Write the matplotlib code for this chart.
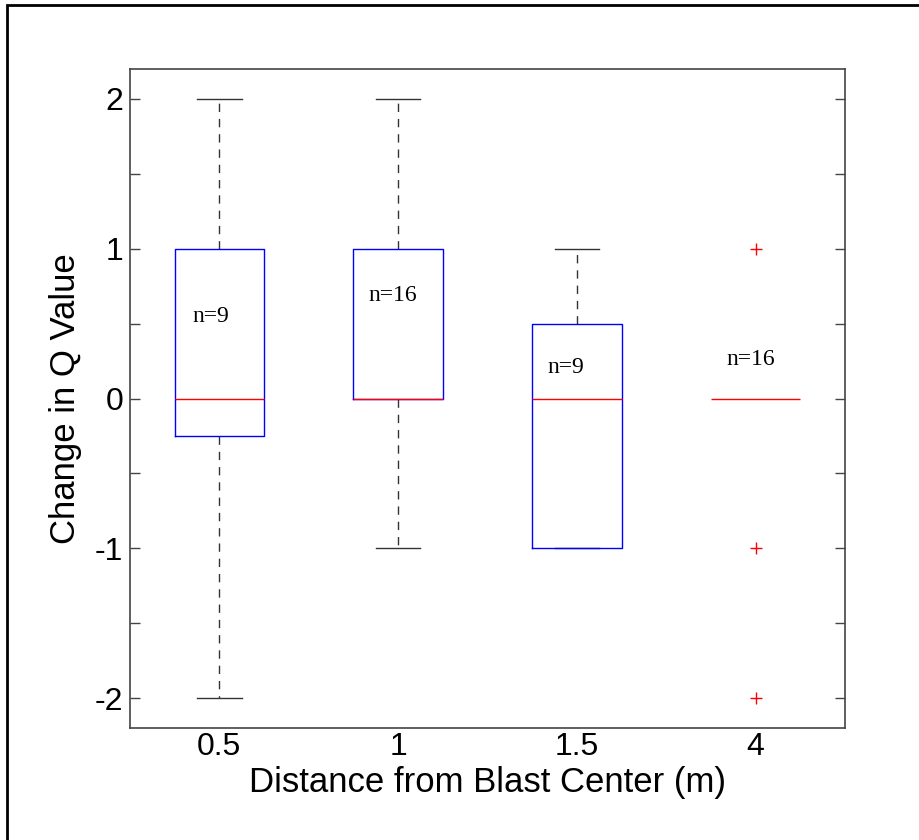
import matplotlib
matplotlib.use("Agg")
import matplotlib.pyplot as plt
from matplotlib.patches import Rectangle

categories = ["0.5", "1", "1.5", "4"]
q1 = [-0.25, 0.0, -1.0, 0.0]
medians = [0.0, 0.0, 0.0, 0.0]
q3 = [1.0, 1.0, 0.5, 0.0]
whisker_lo = [-2.0, -1.0, -1.0, 0.0]
whisker_hi = [2.0, 2.0, 1.0, 0.0]
outliers = [[], [], [], [1.0, -1.0, -2.0]]
n_labels = ["n=9", "n=16", "n=9", "n=16"]
n_label_y = [0.55, 0.69, 0.21, 0.26]
n_label_dx = [-0.05, -0.03, -0.06, -0.03]

W, H = 919, 840
fig = plt.figure(figsize=(W / 100, H / 100), dpi=100)
ax = fig.add_axes([130 / W, 1 - 728 / H, (845 - 130) / W, (728 - 69) / H])

stats = []
for i in range(len(categories)):
    stats.append(dict(med=medians[i], q1=q1[i], q3=q3[i],
                      whislo=whisker_lo[i], whishi=whisker_hi[i],
                      fliers=outliers[i], label=categories[i]))

pos = list(range(1, len(categories) + 1))
bp = ax.bxp(stats, positions=pos, widths=0.5, showfliers=True,
            boxprops=dict(color="#0000ff", linewidth=1.0),
            medianprops=dict(color="#ff0000", linewidth=1.0),
            whiskerprops=dict(color="#333333", linewidth=1.0, linestyle=(0, (6, 5))),
            capprops=dict(color="#333333", linewidth=1.0),
            capwidths=0.25,
            flierprops=dict(marker="+", markeredgecolor="#ff0000", markersize=9,
                            markeredgewidth=1.0, linestyle="none"))
for l in bp["whiskers"] + bp["caps"]:
    l.set_zorder(2)
for i, l in enumerate(bp["boxes"]):
    l.set_zorder(3)
    if q1[i] == q3[i]:
        l.set_visible(False)
for l in bp["medians"]:
    l.set_zorder(4)
for i in range(len(categories)):
    if whisker_lo[i] == whisker_hi[i]:
        bp["caps"][2 * i].set_visible(False)
        bp["caps"][2 * i + 1].set_visible(False)

for i in range(len(categories)):
    ax.text(pos[i] + n_label_dx[i], n_label_y[i], n_labels[i],
            ha="center", va="center", fontsize=17,
            family=["Liberation Serif", "DejaVu Serif"])

ax.set_xlim(0.5, 4.5)
ax.set_ylim(-2.2, 2.2)
ax.set_xticks(pos)
ax.set_xticklabels(categories)
yt = [-2, -1.5, -1, -0.5, 0, 0.5, 1, 1.5, 2]
ylab = {-2: "-2", -1: "-1", 0: "0", 1: "1", 2: "2"}
ax.set_yticks(yt)
ax.set_yticklabels([ylab.get(v, "") for v in yt])
ax.tick_params(direction="in", length=7, width=1, color="#444444",
               right=True, top=False, labelsize=23)
ax.tick_params(axis="y", pad=5)
ax.tick_params(axis="x", length=0, pad=3)
for t in ax.get_xticklabels() + ax.get_yticklabels():
    t.set_family(["Liberation Sans", "DejaVu Sans"])
for s in ax.spines.values():
    s.set_color("#444444")
    s.set_linewidth(1.2)

ax.set_xlabel("Distance from Blast Center (m)", fontsize=25,
              family=["Liberation Sans", "DejaVu Sans"], labelpad=3)
ax.set_ylabel("Change in Q Value", fontsize=25,
              family=["Liberation Sans", "DejaVu Sans"], labelpad=9)

fig.patches.append(Rectangle((7 / W, -0.1), 1.2, 1 - 5 / H + 0.1,
                             transform=fig.transFigure, fill=False,
                             edgecolor="black", linewidth=2.0))

fig.savefig("out.png", dpi=100)
